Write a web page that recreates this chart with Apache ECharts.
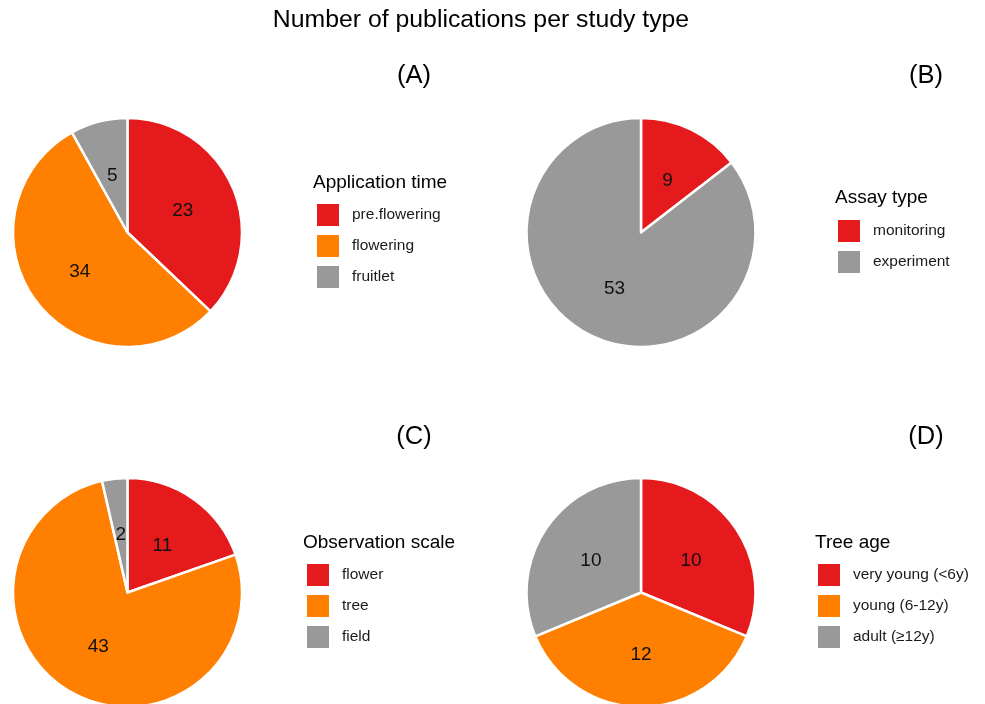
<!DOCTYPE html>
<html>
<head>
<meta charset="utf-8">
<script src="https://cdn.jsdelivr.net/npm/echarts@6/dist/echarts.min.js"></script>
<style>html,body{margin:0;padding:0;background:#fff;}#c{width:985px;height:704px;}</style>
</head>
<body>
<div id="c"></div>
<script>
const mainTitle = "Number of publications per study type";
const panelTitles = ["(A)", "(B)", "(C)", "(D)"];
const legendTitles = ["Application time", "Assay type", "Observation scale", "Tree age"];

const catsA = ["pre.flowering", "flowering", "fruitlet"];
const valsA = [23, 34, 5];
const colsA = ["#E41A1C", "#FF7F00", "#999999"];

const catsB = ["monitoring", "experiment"];
const valsB = [9, 53];
const colsB = ["#E41A1C", "#999999"];

const catsC = ["flower", "tree", "field"];
const valsC = [11, 43, 2];
const colsC = ["#E41A1C", "#FF7F00", "#999999"];

const catsD = ["very young (<6y)", "young (6-12y)", "adult (\u226512y)"];
const valsD = [10, 12, 10];
const colsD = ["#E41A1C", "#FF7F00", "#999999"];

const panels = [
  {cats: catsA, vals: valsA, cols: colsA, center: [127.5, 232.5], title: [414, 76], lt: [313, 183], lg: [317, 204]},
  {cats: catsB, vals: valsB, cols: colsB, center: [641, 232.5], title: [926, 76], lt: [835, 198], lg: [838, 220]},
  {cats: catsC, vals: valsC, cols: colsC, center: [127.5, 592.5], title: [414, 437], lt: [303, 543], lg: [307, 564]},
  {cats: catsD, vals: valsD, cols: colsD, center: [641, 592.5], title: [926, 437], lt: [815, 543], lg: [818, 564]}
];

const FONT = "Liberation Sans, Arial, Helvetica, sans-serif";
const series = [], legends = [], graphics = [];

graphics.push({type: 'text', x: 481, y: 20, style: {text: mainTitle, fontSize: 24.8, fontFamily: FONT, fill: '#000', textAlign: 'center', textVerticalAlign: 'middle'}});

panels.forEach((p, i) => {
  series.push({
    type: 'pie',
    radius: 114.5,
    center: p.center,
    startAngle: 90,
    clockwise: true,
    animation: false,
    silent: true,
    label: {show: true, position: 'inside', formatter: '{c}', fontSize: 19, color: '#111', fontFamily: FONT, offset: [0, 2]},
    labelLine: {show: false},
    itemStyle: {borderColor: '#fff', borderWidth: 2.5},
    emphasis: {disabled: true},
    data: p.cats.map((c, k) => ({name: c, value: p.vals[k], itemStyle: {color: p.cols[k]}}))
  });
  legends.push({
    data: p.cats,
    orient: 'vertical',
    left: p.lg[0],
    top: p.lg[1],
    padding: 0,
    icon: 'rect',
    itemWidth: 22,
    itemHeight: 22,
    itemGap: 9,
    selectedMode: false,
    itemStyle: {borderWidth: 0},
    textStyle: {fontSize: 15.5, color: '#1a1a1a', fontFamily: FONT, padding: [0, 0, 0, 8]}
  });
  graphics.push({type: 'text', x: p.title[0], y: p.title[1], style: {text: panelTitles[i], fontSize: 25.5, fontFamily: FONT, fill: '#000', textAlign: 'center', textVerticalAlign: 'middle'}});
  graphics.push({type: 'text', x: p.lt[0], y: p.lt[1], style: {text: legendTitles[i], fontSize: 19, fontFamily: FONT, fill: '#000', textAlign: 'left', textVerticalAlign: 'middle'}});
});

const chart = echarts.init(document.getElementById('c'), null, {renderer: 'canvas'});
chart.setOption({
  backgroundColor: '#fff',
  animation: false,
  legend: legends,
  series: series,
  graphic: graphics
});
</script>
</body>
</html>
